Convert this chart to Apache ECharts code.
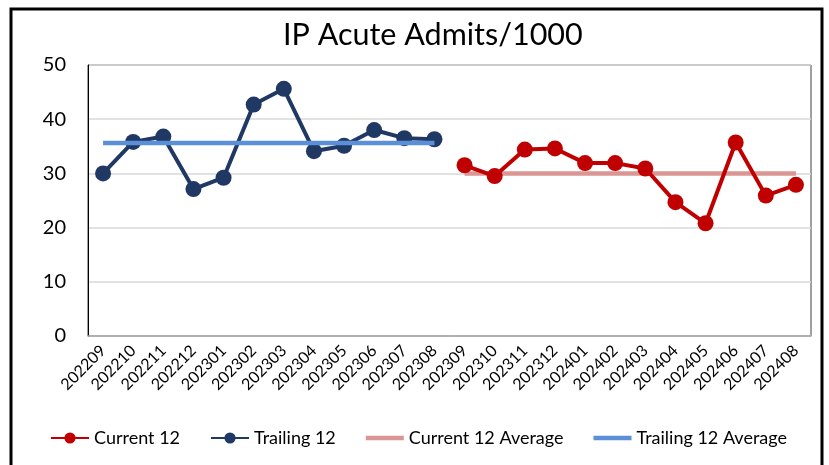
<!DOCTYPE html>
<html>
  <head>
    <meta charset="utf-8" />
    <title>IP Acute Admits/1000</title>
    <script src="https://cdn.jsdelivr.net/npm/echarts@6/dist/echarts.min.js"></script>
  </head>
  <body style="margin:0;background:#fff;">
    <div id="main" style="width: 829px;height:465px;"></div>
    <script type="text/javascript">
        // months on the x axis
        var months = ['202209', '202210', '202211', '202212', '202301', '202302', '202303', '202304',
            '202305', '202306', '202307', '202308', '202309', '202310', '202311', '202312',
            '202401', '202402', '202403', '202404', '202405', '202406', '202407', '202408'];

        var trailing12 = [30.0, 35.8, 36.8, 27.1, 29.2, 42.7, 45.6, 34.1, 35.1, 38.0, 36.5, 36.3,
            '-', '-', '-', '-', '-', '-', '-', '-', '-', '-', '-', '-'];
        var current12 = ['-', '-', '-', '-', '-', '-', '-', '-', '-', '-', '-', '-',
            31.5, 29.5, 34.4, 34.6, 31.9, 31.9, 30.9, 24.7, 20.8, 35.7, 25.9, 27.9];
        var trailingAvg = [35.6, 35.6, 35.6, 35.6, 35.6, 35.6, 35.6, 35.6, 35.6, 35.6, 35.6, 35.6,
            '-', '-', '-', '-', '-', '-', '-', '-', '-', '-', '-', '-'];
        var currentAvg = ['-', '-', '-', '-', '-', '-', '-', '-', '-', '-', '-', '-',
            30.0, 30.0, 30.0, 30.0, 30.0, 30.0, 30.0, 30.0, 30.0, 30.0, 30.0, 30.0];

        var font = 'Lato, "Open Sans", sans-serif';
        var lineIcon = 'path://M0,0L38,0L38,4.5L0,4.5Z';
        var myChart = echarts.init(document.getElementById('main'));

        var option = {
            animation: false,
            textStyle: { fontFamily: font, color: '#000' },
            title: {
                text: 'IP Acute Admits/1000',
                left: 278,
                top: 15,
                textStyle: { fontFamily: font, fontSize: 30.5, fontWeight: 'normal', color: '#000' }
            },
            graphic: [{
                type: 'rect',
                shape: { x: 11, y: 9, width: 811, height: 470 },
                style: { fill: 'none', stroke: '#000', lineWidth: 3 },
                silent: true
            }],
            legend: {
                bottom: 13,
                left: 45,
                itemWidth: 38,
                itemHeight: 14,
                itemGap: 30,
                textStyle: { fontFamily: font, fontSize: 18, color: '#000' },
                data: [
                    { name: 'Current 12' },
                    { name: 'Trailing 12' },
                    { name: 'Current 12 Average', icon: lineIcon },
                    { name: 'Trailing 12 Average', icon: lineIcon }
                ]
            },
            grid: {
                left: 88,
                right: 18,
                top: 65,
                bottom: 129,
                show: true,
                borderColor: '#404040',
                borderWidth: 1,
                containLabel: false
            },
            xAxis: {
                type: 'category',
                data: months,
                boundaryGap: true,
                axisLine: { lineStyle: { color: '#a6a6a6', width: 1.5 } },
                axisTick: { show: false },
                axisLabel: { rotate: 45, fontSize: 16, color: '#000', fontFamily: font, interval: 0, margin: 12 }
            },
            yAxis: {
                type: 'value',
                min: 0,
                max: 50,
                interval: 10,
                axisLine: { show: true, lineStyle: { color: '#000', width: 1 } },
                axisTick: { show: false },
                axisLabel: { fontSize: 20, color: '#000', fontFamily: font, margin: 22 },
                splitLine: { lineStyle: { color: '#d9d9d9', width: 1.5 } }
            },
            series: [{
                name: 'Current 12 Average',
                type: 'line',
                data: currentAvg,
                symbol: 'none',
                lineStyle: { color: '#DA9694', width: 4.5 },
                itemStyle: { color: '#DA9694' },
                z: 1
            }, {
                name: 'Trailing 12 Average',
                type: 'line',
                data: trailingAvg,
                symbol: 'none',
                lineStyle: { color: '#5B8FD8', width: 4.5 },
                itemStyle: { color: '#5B8FD8' },
                z: 3
            }, {
                name: 'Current 12',
                type: 'line',
                data: current12,
                symbol: 'circle',
                symbolSize: 16,
                lineStyle: { color: '#C00000', width: 4 },
                itemStyle: { color: '#C00000' },
                z: 2
            }, {
                name: 'Trailing 12',
                type: 'line',
                data: trailing12,
                symbol: 'circle',
                symbolSize: 16,
                lineStyle: { color: '#1F3864', width: 4 },
                itemStyle: { color: '#1F3864' },
                z: 2
            }]
        };

        myChart.setOption(option);
    </script>
  </body>
</html>
